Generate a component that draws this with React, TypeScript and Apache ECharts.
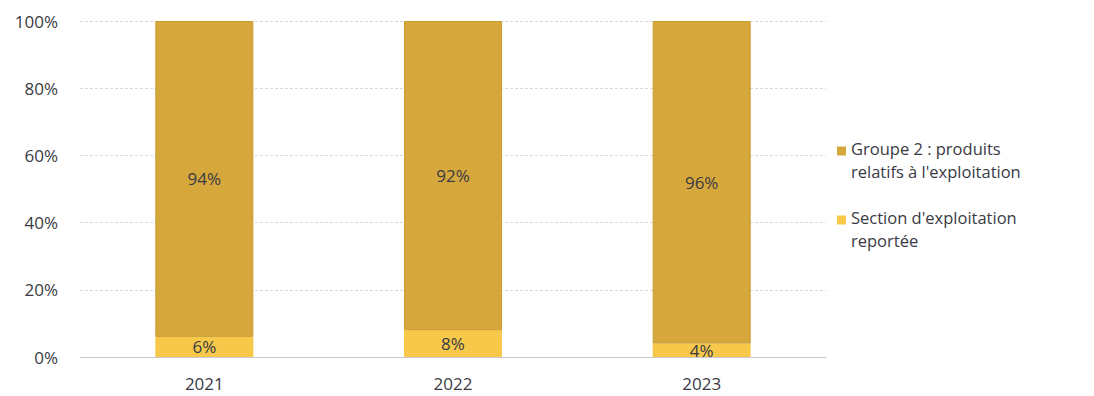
import React, { useEffect, useRef } from "react";
import * as echarts from "echarts";

const categories = ["2021", "2022", "2023"];
const reportee = [6, 8, 4];
const groupe2 = [94, 92, 96];
const yTicks = [0, 20, 40, 60, 80, 100];
const seriesNames = ["Groupe 2 : produits\nrelatifs à l'exploitation", "Section d'exploitation\nreportée"];

const FONT = "'Open Sans', 'Noto Sans', sans-serif";
const TXT = "#3a3a44";

export default function App() {
  const ref = useRef<HTMLDivElement>(null);
  useEffect(() => {
    const chart = echarts.init(ref.current!, null, { renderer: "svg" });
    chart.setOption({
      animation: false,
      backgroundColor: "#ffffff",
      textStyle: { fontFamily: FONT },
      grid: { left: 72, right: 260, top: 13, bottom: 39, containLabel: false, outerBoundsMode: "none" },
      legend: {
        orient: "vertical",
        left: 824,
        top: 124,
        itemWidth: 9,
        itemHeight: 27,
        itemGap: 23,
        icon: "path://M0,0H9V9H0Z M0,27H9",
        itemStyle: { borderWidth: 0 },
        data: [seriesNames[0], seriesNames[1]],
        textStyle: { fontFamily: FONT, fontSize: 16.5, color: TXT, lineHeight: 23 },
      },
      xAxis: {
        type: "category",
        data: categories,
        axisLine: { lineStyle: { color: "#c8c8d0" } },
        axisTick: { show: false },
        axisLabel: { fontFamily: FONT, fontSize: 17, color: TXT, margin: 18 },
      },
      yAxis: {
        type: "value",
        min: 0,
        max: 100,
        interval: 20,
        axisLabel: {
          fontFamily: FONT,
          fontSize: 17,
          color: TXT,
          margin: 22,
          formatter: (v: number) => (yTicks.includes(v) ? v + "%" : ""),
        },
        splitLine: { lineStyle: { color: "#d8d8e0", type: [3, 2], width: 1 } },
        axisLine: { show: false },
        axisTick: { show: false },
      },
      series: [
        {
          name: seriesNames[1],
          type: "bar",
          stack: "total",
          data: reportee,
          barWidth: 98,
          itemStyle: { color: "#f7c84a" },
          label: {
            show: true,
            position: "inside",
            formatter: "{c}%",
            fontFamily: FONT,
            fontSize: 17,
            color: TXT,
          },
        },
        {
          name: seriesNames[0],
          type: "bar",
          stack: "total",
          data: groupe2,
          barWidth: 98,
          itemStyle: { color: "#d6a83c", borderColor: "#c99a30", borderWidth: 1 },
          label: {
            show: true,
            position: "inside",
            formatter: "{c}%",
            fontFamily: FONT,
            fontSize: 17,
            color: TXT,
          },
        },
      ],
    });
    return () => chart.dispose();
  }, []);
  return <div ref={ref} style={{ width: 1078, height: 388 }} />;
}
